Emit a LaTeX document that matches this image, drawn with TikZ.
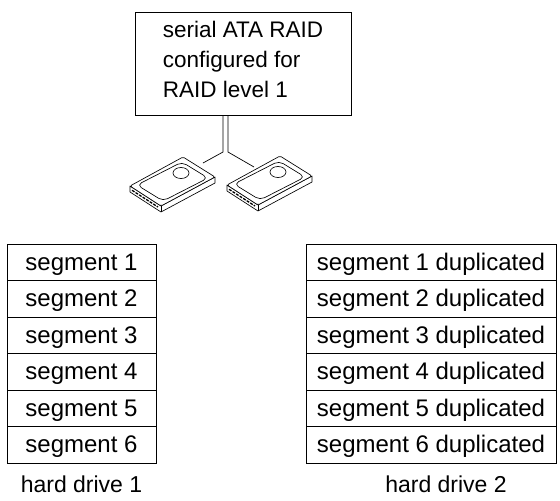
\documentclass[tikz,border=0pt]{standalone}
\usepackage{fontspec}
\setmainfont{Liberation Sans}

\begin{document}
\begin{tikzpicture}[x=1pt, y=-1pt,
        box/.style={draw, line width=1pt, inner sep=0pt},
        seg/.style={box, minimum height=36.5pt, text height=16pt, text depth=0pt,
            font=\fontsize{24}{28}\selectfont},
        drive/.style={line width=0.65pt, line join=round},
        cable/.style={line width=0.7pt},
        hdd/.pic={
            % casing sides
            \draw[drive, fill=white] (-53,28) -- (-53,34) -- (-22,54) -- (32,25) -- (32,19) -- (-22,48) -- cycle;
            \draw[drive] (-22,48) -- (-22,54);
            \draw[line width=1.3pt, dash pattern=on 3pt off 1.2pt] (-51,32.3) -- (-25,49);
            % top cover
            \draw[drive, fill=white, rounded corners=1.5pt] (0,-1) -- (32,19) -- (-22,48) -- (-53,28) -- cycle;
            \draw[drive, rounded corners=5pt] (-1,4) -- (25,20) -- (-20,43) -- (-46,27) -- cycle;
            % spindle
            \draw[drive] (-2,15) ellipse (8pt and 5.5pt);
            \coordinate (-r) at (20,5);
            \coordinate (-l) at (-26,10);
        }]

    \useasboundingbox (0,0) rectangle (560,501);

    % controller
    \node[box, minimum width=216pt, minimum height=103pt, align=left,
        font=\fontsize{22.5}{30}\selectfont] (raid) at (243,63.5)
        {serial ATA RAID\\configured for\\RAID level 1\rule[-9pt]{0pt}{9pt}};

    % drives
    \pic (hdd1) at (183,158) {hdd};
    \pic (hdd2) at (280,157) {hdd};

    % cables
    \coordinate (j1) at (223,152);
    \coordinate (j2) at (228,152);
    \draw[cable] (raid.south -| j1) -- (j1) -- (hdd1-r);
    \draw[cable] (raid.south -| j2) -- (j2) -- (hdd2-l);

    % segments
    \foreach \i in {1,...,6} {
        \node[seg, minimum width=149pt] (a\i) at (81.5, 225.75+36.5*\i) {segment \i};
        \node[seg, minimum width=250pt] (b\i) at (431, 225.75+36.5*\i) {segment \i{} duplicated};
    }

    % labels
    \node[anchor=base, font=\fontsize{23}{28}\selectfont] (hd1) at (81.5,492) {hard drive 1};
    \node[anchor=base, font=\fontsize{23}{28}\selectfont] (hd2) at (446,492) {hard drive 2};
\end{tikzpicture}
\end{document}
